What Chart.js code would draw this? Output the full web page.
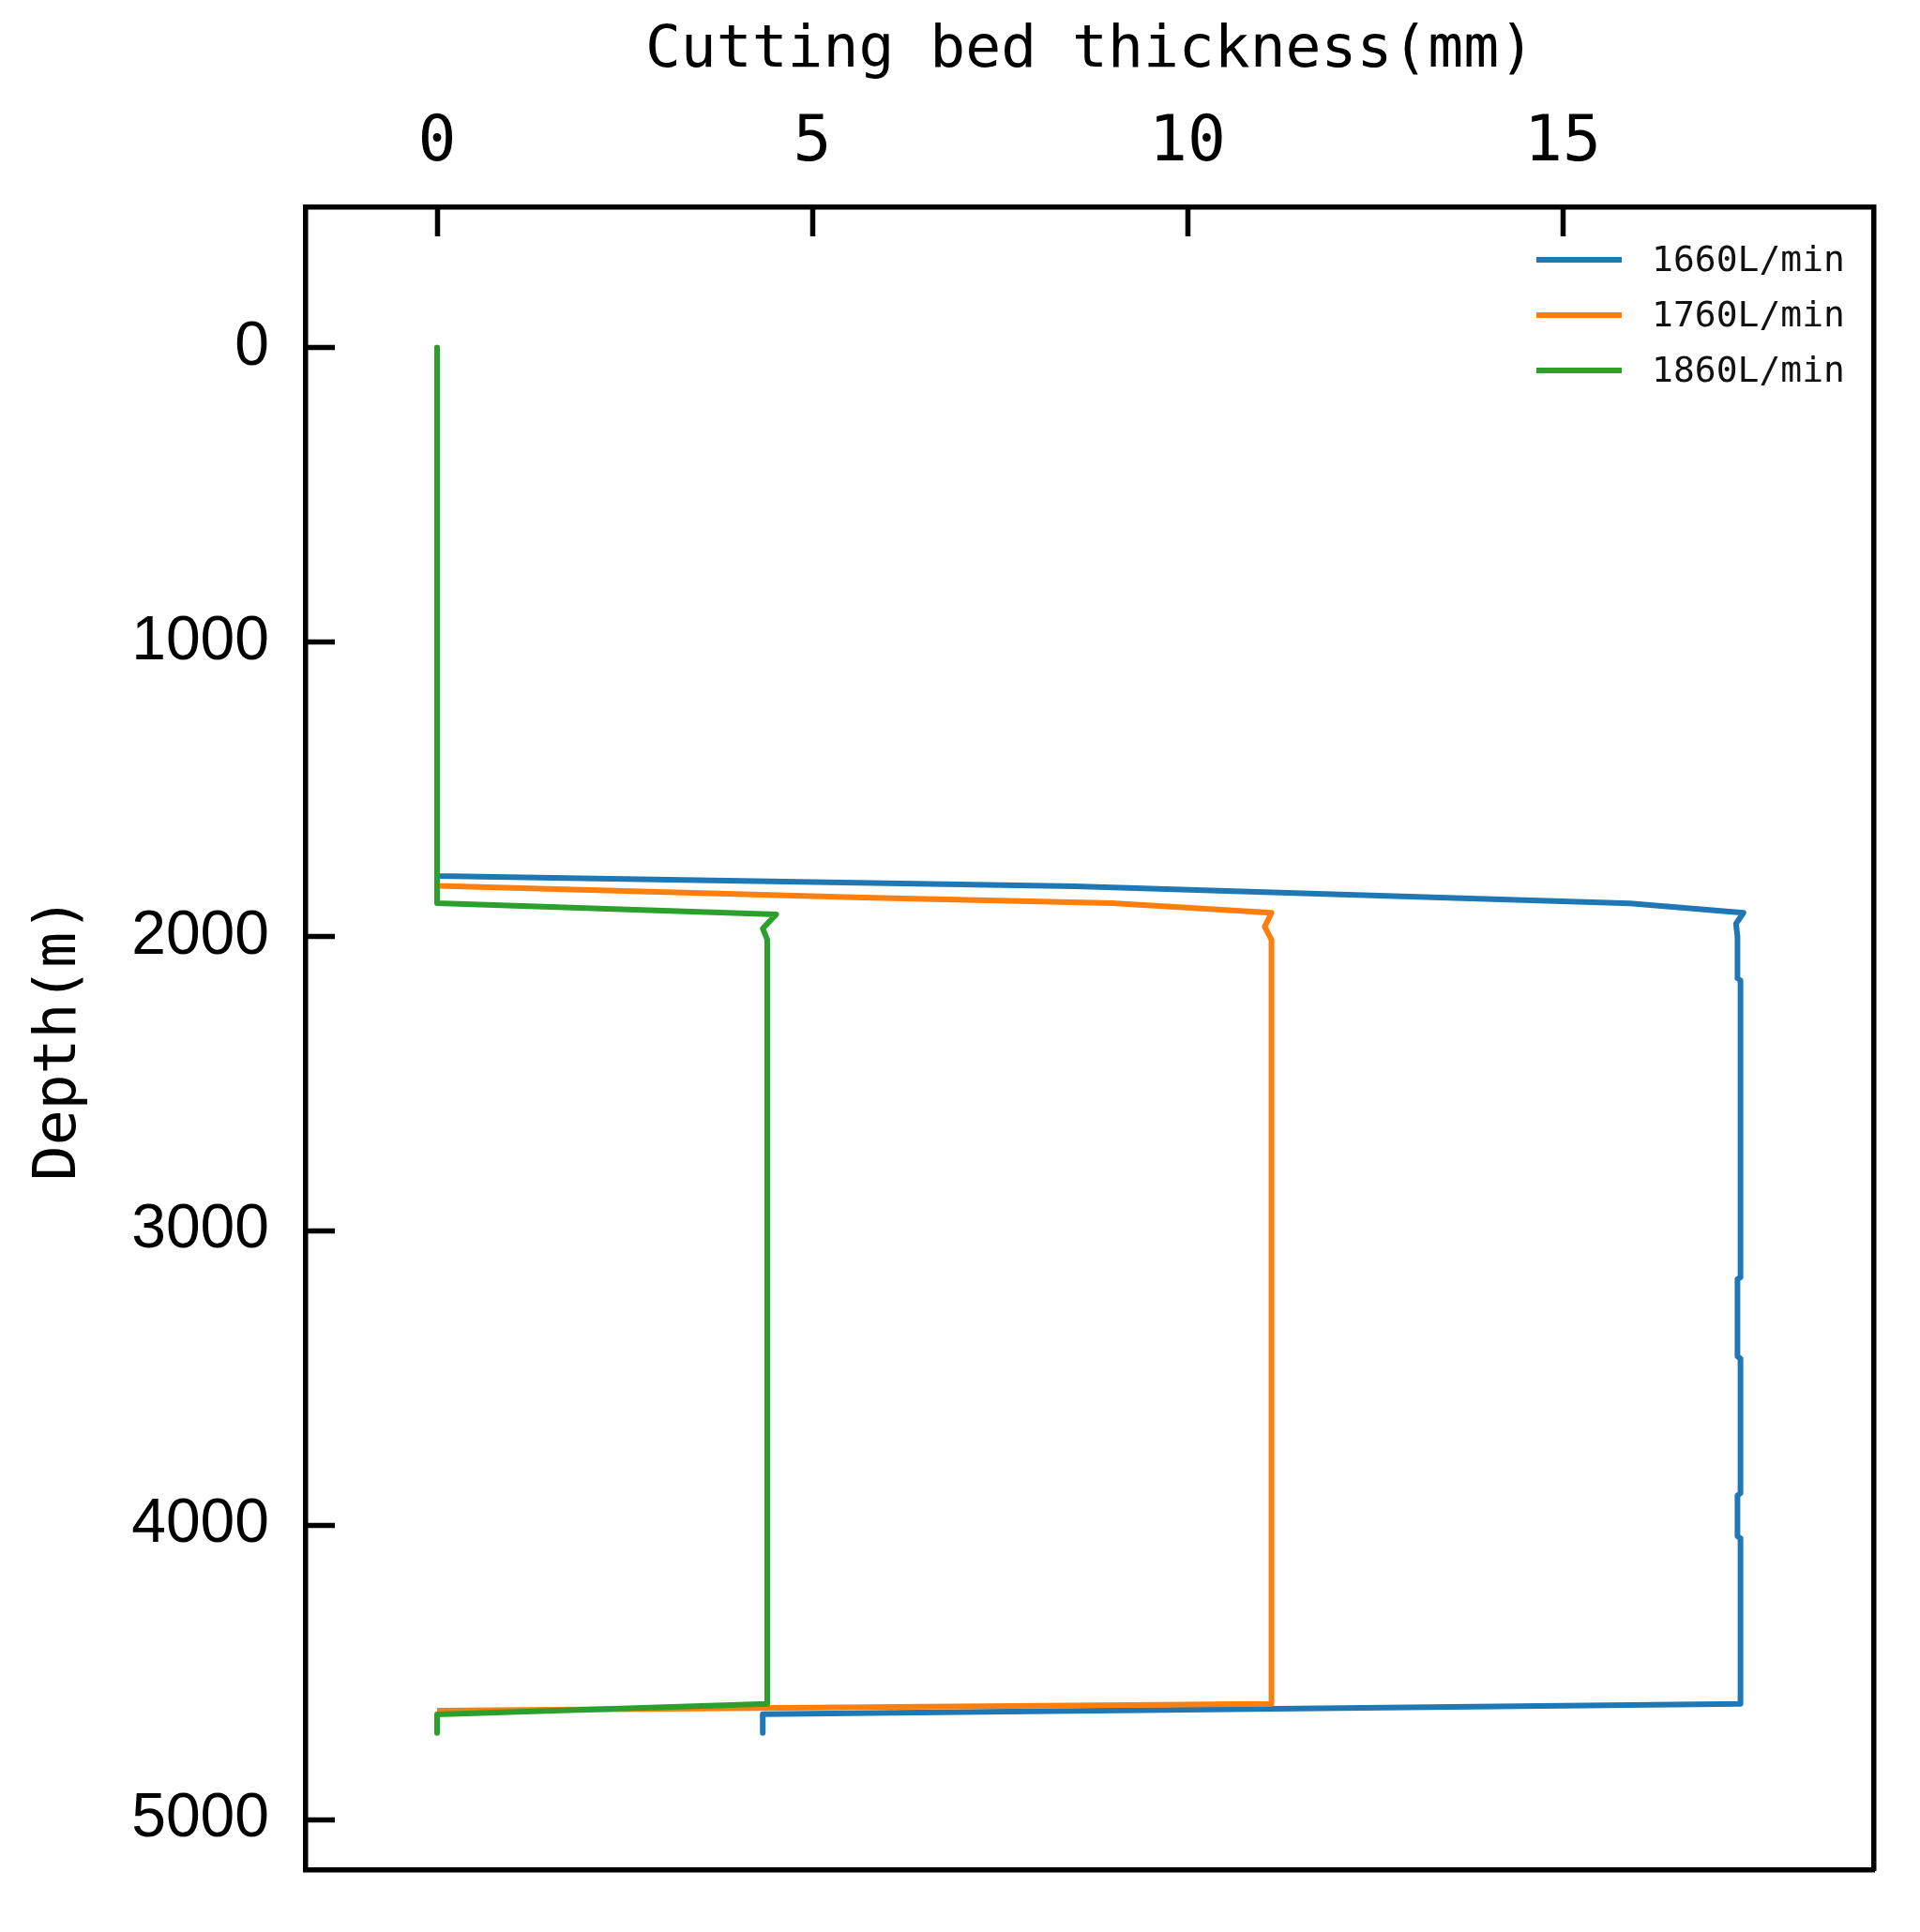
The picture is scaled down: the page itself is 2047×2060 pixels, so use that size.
<!DOCTYPE html>
<html>
<head>
<meta charset="utf-8">
<script src="https://cdn.jsdelivr.net/npm/chart.js@4.4.1/dist/chart.umd.min.js"></script>
<style>
  html, body { margin: 0; padding: 0; background: #fff; }
</style>
</head>
<body>
<canvas id="myChart" width="2047" height="2060"></canvas>
<script>
// depth (m) and cutting bed thickness (mm) for each flow rate
const depth1660 = [0, 1795, 1830, 1888, 1920, 1957, 2000, 2142, 2150, 3158, 3165, 3426, 3435, 3891, 3900, 4037, 4045, 4607, 4642, 4706];
const thick1660 = [0, 0, 8.5, 15.9, 17.41, 17.31, 17.33, 17.33, 17.37, 17.37, 17.33, 17.33, 17.37, 17.37, 17.33, 17.33, 17.37, 17.37, 4.34, 4.34];

const depth1760 = [0, 1828, 1868, 1887, 1920, 1967, 2012, 4607, 4630];
const thick1760 = [0, 0, 5.67, 9.0, 11.12, 11.03, 11.12, 11.12, 0];

const depth1860 = [0, 1887, 1925, 1973, 2011, 4607, 4643, 4706];
const thick1860 = [0, 0, 4.52, 4.34, 4.4, 4.4, 0, 0];

const seriesLabels = ['1660L/min', '1760L/min', '1860L/min'];
const seriesColors = ['#1f77b4', '#ff7f0e', '#2ca02c'];

const xTicks = [0, 5, 10, 15];
const yTicks = [0, 1000, 2000, 3000, 4000, 5000];

function toPoints(xs, ys) {
  return xs.map((x, i) => ({ x: x, y: ys[i] }));
}

const monoFont = 'DejaVu Sans Mono';

// legend drawn inside the plot, top right
const insideLegend = {
  id: 'insideLegend',
  afterDatasetsDraw(chart) {
    const ctx = chart.ctx;
    const area = chart.chartArea;
    ctx.save();
    ctx.font = '38px "' + monoFont + '"';
    ctx.textBaseline = 'middle';
    ctx.textAlign = 'left';
    chart.data.datasets.forEach((ds, i) => {
      const y = area.top + 56 + i * 59;
      ctx.strokeStyle = ds.borderColor;
      ctx.lineWidth = 6;
      ctx.beginPath();
      ctx.moveTo(area.right - 360, y);
      ctx.lineTo(area.right - 269, y);
      ctx.stroke();
      ctx.fillStyle = '#111';
      ctx.fillText(ds.label, area.right - 237, y + 2);
    });
    ctx.restore();
  }
};

const lineStyle = {
  showLine: true,
  pointRadius: 0,
  borderWidth: 6,
  tension: 0,
  borderJoinStyle: 'round',
  borderCapStyle: 'butt',
  fill: false
};

new Chart(document.getElementById('myChart'), {
  type: 'scatter',
  data: {
    datasets: [
      Object.assign({ label: seriesLabels[0], data: toPoints(thick1660, depth1660), borderColor: seriesColors[0], backgroundColor: seriesColors[0], order: 2 }, lineStyle),
      Object.assign({ label: seriesLabels[1], data: toPoints(thick1760, depth1760), borderColor: seriesColors[1], backgroundColor: seriesColors[1], order: 1 }, lineStyle),
      Object.assign({ label: seriesLabels[2], data: toPoints(thick1860, depth1860), borderColor: seriesColors[2], backgroundColor: seriesColors[2], order: 0 }, lineStyle)
    ]
  },
  options: {
    responsive: false,
    animation: false,
    devicePixelRatio: 1,
    layout: { padding: 0 },
    plugins: {
      legend: { display: false },
      tooltip: { enabled: false }
    },
    scales: {
      x: {
        type: 'linear',
        position: 'top',
        min: -1.75,
        max: 19.15,
        afterBuildTicks: s => { s.ticks = xTicks.map(v => ({ value: v })); },
        afterFit: s => { s.height = 221; s.paddingLeft = 0; s.paddingRight = 0; },
        grid: { drawOnChartArea: false, drawTicks: true, tickLength: -31, tickWidth: 5.5, tickColor: '#000' },
        border: { display: true, color: '#000', width: 5.5 },
        ticks: { color: '#000', font: { family: monoFont, size: 68 }, padding: 58, maxRotation: 0 },
        title: {
          display: true,
          text: 'Cutting bed thickness(mm)',
          color: '#000',
          font: { family: monoFont, size: 63 },
          padding: { top: 17, bottom: 0 }
        }
      },
      y: {
        type: 'linear',
        position: 'left',
        reverse: true,
        min: -477,
        max: 5172,
        afterBuildTicks: s => { s.ticks = yTicks.map(v => ({ value: v })); },
        afterFit: s => { s.width = 326; s.paddingTop = 0; s.paddingBottom = 0; },
        grid: { drawOnChartArea: false, drawTicks: true, tickLength: -31, tickWidth: 5.5, tickColor: '#000' },
        border: { display: true, color: '#000', width: 5.5 },
        ticks: { color: '#000', font: { family: 'Liberation Sans', size: 66 }, padding: 70, callback: v => String(v) },
        title: {
          display: true,
          text: 'Depth(m)',
          color: '#000',
          font: { family: monoFont, size: 63 },
          padding: { top: 26, bottom: 0 }
        }
      },
      x2: {
        type: 'linear',
        position: 'bottom',
        min: -1.75,
        max: 19.15,
        afterFit: s => { s.height = 66; },
        grid: { drawOnChartArea: false, drawTicks: false },
        border: { display: true, color: '#000', width: 5.5 },
        ticks: { display: false }
      },
      y2: {
        type: 'linear',
        position: 'right',
        min: -477,
        max: 5172,
        afterFit: s => { s.width = 49; },
        grid: { drawOnChartArea: false, drawTicks: false },
        border: { display: true, color: '#000', width: 5.5 },
        ticks: { display: false }
      }
    }
  },
  plugins: [insideLegend]
});
</script>
</body>
</html>
